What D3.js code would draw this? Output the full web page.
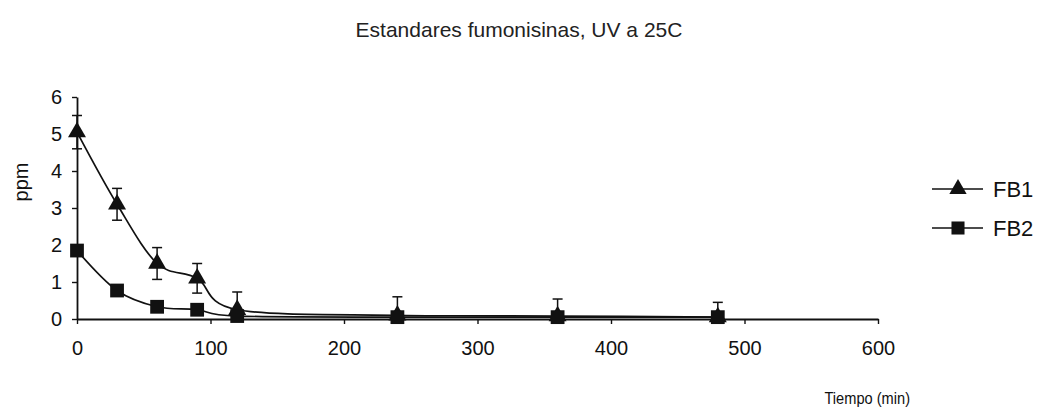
<!DOCTYPE html>
<html>
<head>
<meta charset="utf-8">
<script src="https://cdn.jsdelivr.net/npm/d3@7"></script>
<style>
  html, body { margin: 0; padding: 0; background: #fff; }
  svg { display: block; font-family: "Liberation Sans", Arial, sans-serif; }
</style>
</head>
<body>
<svg id="chart" width="1042" height="410"></svg>
<script>
// Time points (min)
const tiempo = [0, 30, 60, 90, 120, 240, 360, 480];
// FB1 concentration (ppm) and its error
const fb1 = [5.05, 3.1, 1.5, 1.1, 0.25, 0.1, 0.08, 0.05];
const fb1Err = [0.45, 0.43, 0.43, 0.4, 0.48, 0.5, 0.46, 0.4];
// FB2 concentration (ppm) and its error
const fb2 = [1.85, 0.77, 0.33, 0.25, 0.08, 0.05, 0.05, 0.05];
const fb2Err = [0.1, 0.08, 0.06, 0.05, 0.03, 0.02, 0.02, 0.02];
// Axis ticks
const xTicks = [0, 100, 200, 300, 400, 500, 600];
const yTicks = [0, 1, 2, 3, 4, 5, 6];
const seriesNames = ["FB1", "FB2"];

const svg = d3.select("#chart");
const x = d3.scaleLinear().domain([0, 600]).range([77, 878]);
const y = d3.scaleLinear().domain([0, 6]).range([319, 97]);

// Title
svg.append("text")
  .attr("x", 519).attr("y", 37)
  .attr("text-anchor", "middle")
  .attr("font-size", 21)
  .attr("fill", "#222")
  .text("Estandares fumonisinas, UV a 25C");

// Axes
const xAxis = svg.append("g")
  .attr("transform", `translate(0,${y(0)})`)
  .call(d3.axisBottom(x).tickValues(xTicks).tickFormat(d3.format("d"))
    .tickSize(5).tickPadding(17).tickSizeOuter(0));
const yAxis = svg.append("g")
  .attr("transform", `translate(${x(0)},0)`)
  .call(d3.axisLeft(y).tickValues(yTicks).tickFormat(d3.format("d"))
    .tickSize(5).tickPadding(10).tickSizeOuter(0));
[xAxis, yAxis].forEach(g => {
  g.select(".domain").attr("stroke", "#111").attr("stroke-width", 1.8);
  g.selectAll(".tick line").attr("stroke", "#111").attr("stroke-width", 1.4);
  g.selectAll(".tick text").attr("font-size", 20).attr("fill", "#111")
    .attr("font-family", "Liberation Sans, Arial, sans-serif");
});

// Axis titles
svg.append("text")
  .attr("transform", "translate(28,182) rotate(-90)")
  .attr("text-anchor", "middle")
  .attr("font-size", 20)
  .attr("fill", "#111")
  .text("ppm");
svg.append("text")
  .attr("transform", "translate(910,404) scale(0.86,1)")
  .attr("text-anchor", "end")
  .attr("font-size", 17)
  .attr("fill", "#111")
  .text("Tiempo (min)");

const line = d3.line()
  .x(d => x(d[0]))
  .y(d => y(d[1]))
  .curve(d3.curveCatmullRom.alpha(0));

function drawSeries(vals, errs, shape) {
  const pts = tiempo.map((t, i) => [t, vals[i], errs[i]]);
  const g = svg.append("g");
  // error bars (lower half stops at the x axis)
  const eb = g.selectAll("g.err").data(pts).join("g");
  eb.append("line")
    .attr("x1", d => x(d[0])).attr("x2", d => x(d[0]))
    .attr("y1", d => y(Math.max(0, d[1] - d[2]))).attr("y2", d => y(d[1] + d[2]))
    .attr("stroke", "#111").attr("stroke-width", 1.5);
  eb.append("line")
    .attr("x1", d => x(d[0]) - 5).attr("x2", d => x(d[0]) + 5)
    .attr("y1", d => y(d[1] + d[2])).attr("y2", d => y(d[1] + d[2]))
    .attr("stroke", "#111").attr("stroke-width", 1.5);
  eb.filter(d => d[1] - d[2] > 0).append("line")
    .attr("x1", d => x(d[0]) - 5).attr("x2", d => x(d[0]) + 5)
    .attr("y1", d => y(d[1] - d[2])).attr("y2", d => y(d[1] - d[2]))
    .attr("stroke", "#111").attr("stroke-width", 1.5);
  g.append("path")
    .attr("d", line(pts))
    .attr("fill", "none").attr("stroke", "#111").attr("stroke-width", 1.7);
  g.selectAll("path.m").data(pts).join("path")
    .attr("class", "m")
    .attr("transform", d => `translate(${x(d[0])},${y(d[1])})`)
    .attr("d", d3.symbol().type(shape).size(shape === d3.symbolSquare ? 190 : 140))
    .attr("fill", "#111");
}

drawSeries(fb1, fb1Err, d3.symbolTriangle);
drawSeries(fb2, fb2Err, d3.symbolSquare);

// Legend
const legend = svg.append("g");
const shapes = [d3.symbolTriangle, d3.symbolSquare];
seriesNames.forEach((name, i) => {
  const ly = 189 + i * 39;
  legend.append("line")
    .attr("x1", 932).attr("x2", 983).attr("y1", ly).attr("y2", ly)
    .attr("stroke", "#111").attr("stroke-width", 1.5);
  legend.append("path")
    .attr("transform", `translate(958,${ly})`)
    .attr("d", d3.symbol().type(shapes[i]).size(i === 1 ? 170 : 130))
    .attr("fill", "#111");
  legend.append("text")
    .attr("x", 993).attr("y", ly + 8)
    .attr("font-size", 22)
    .attr("fill", "#111")
    .text(name);
});
</script>
</body>
</html>
